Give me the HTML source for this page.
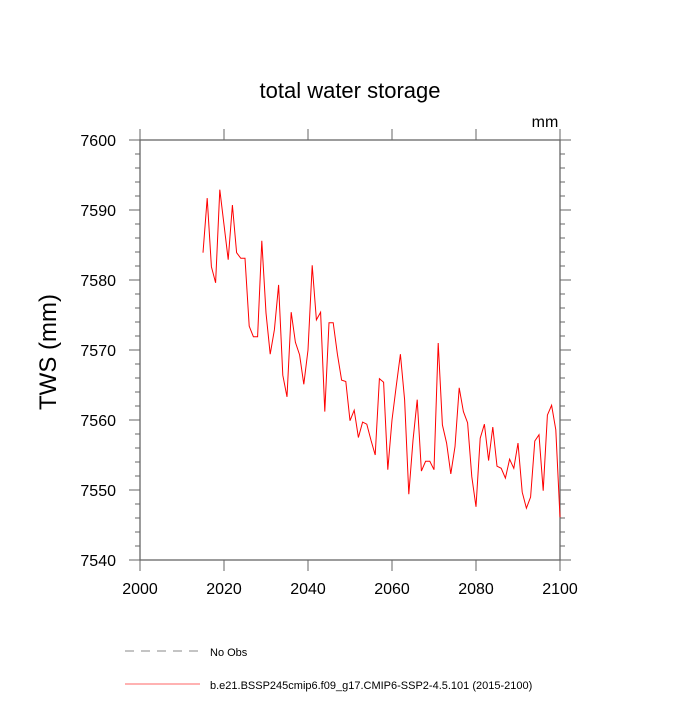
<!DOCTYPE html>
<html><head><meta charset="utf-8"><style>
body{margin:0;background:#fff}
svg{font-family:"Liberation Sans",sans-serif}
</style></head><body>
<svg id="chart" width="700" height="700">
<text x="350" y="98" font-size="22" text-anchor="middle">total water storage</text>
<text x="545" y="127" font-size="16" text-anchor="middle">mm</text>
<text transform="translate(56,352) rotate(-90)" font-size="24" text-anchor="middle">TWS  (mm)</text>
<g id="axes"></g>
<g id="series"></g>
<g>
<line x1="125" y1="651" x2="200" y2="651" stroke="#888" stroke-dasharray="9,7"/>
<text x="210" y="656" font-size="11">No Obs</text>
<line x1="125" y1="684" x2="200" y2="684" stroke="#f66"/>
<text x="210" y="689" font-size="11">b.e21.BSSP245cmip6.f09_g17.CMIP6-SSP2-4.5.101 (2015-2100)</text>
</g>
</svg>
<script>
const startYear = 2015;
const twsValues = [7583.9,7591.7,7581.9,7579.6,7592.9,7587.9,7582.9,7590.7,7583.9,7583.1,7583.1,7573.4,7571.9,7571.9,7585.6,7575.3,7569.4,7572.9,7579.3,7566.4,7563.3,7575.4,7571.1,7569.3,7565.1,7570.0,7582.1,7574.3,7575.4,7561.2,7573.9,7573.9,7569.4,7565.7,7565.5,7559.9,7561.4,7557.5,7559.7,7559.4,7557.1,7555.0,7565.9,7565.4,7552.9,7560.0,7564.8,7569.4,7562.9,7549.4,7557.1,7562.9,7552.7,7554.1,7554.1,7552.9,7571.0,7559.3,7556.7,7552.3,7556.2,7564.6,7561.2,7559.6,7551.9,7547.6,7557.4,7559.4,7554.2,7559.0,7553.4,7553.1,7551.7,7554.4,7553.1,7556.7,7549.7,7547.4,7549.0,7557.0,7557.9,7549.9,7560.7,7562.1,7558.6,7546.1];
const xTicks = [2000,2020,2040,2060,2080,2100];
const yTicks = [7540,7550,7560,7570,7580,7590,7600];
const NS="http://www.w3.org/2000/svg";
const L=140,R=560,T=140,B=560;
const AC='#666';
const xS=v=>L+(v-2000)/100*(R-L);
const yS=v=>B-(v-7540)/60*(B-T);
const ax=document.getElementById('axes');
function mk(tag,attrs,parent){const e=document.createElementNS(NS,tag);for(const k in attrs)e.setAttribute(k,attrs[k]);parent.appendChild(e);return e;}
for(let v=7540;v<=7600;v+=2){const y=yS(v);
 const t1=mk('line',{x1:L,y1:y,x2:L-5,y2:y,stroke:AC},ax);
 
 
 const t2=mk('line',{x1:R,y1:y,x2:R+5,y2:y,stroke:AC},ax);
 
 }
xTicks.forEach(v=>{const x=xS(v);
 const a=mk('line',{x1:x,y1:B,x2:x,y2:B+11,stroke:AC},ax);
 
 
 const b=mk('line',{x1:x,y1:T,x2:x,y2:T-11,stroke:AC},ax);
 
 
 const t=mk('text',{x:x,y:B+34,'font-size':16,'text-anchor':'middle'},ax);t.textContent=v;
 
 });
yTicks.forEach(v=>{const y=yS(v);
 const a=mk('line',{x1:L,y1:y,x2:L-11,y2:y,stroke:AC},ax);
 
 
 const b=mk('line',{x1:R,y1:y,x2:R+11,y2:y,stroke:AC},ax);
 
 
 const t=mk('text',{x:L-24,y:y+6,'font-size':16,'text-anchor':'end'},ax);t.textContent=v;
 
 });
const frame=mk('rect',{x:L,y:T,width:R-L,height:B-T,fill:'none',stroke:AC,'stroke-width':1.3},ax);


const pts=twsValues.map((v,i)=>xS(startYear+i).toFixed(1)+','+yS(v).toFixed(1)).join(' ');
const pl=mk('polyline',{points:pts,fill:'none',stroke:'#f00','stroke-width':1},document.getElementById('series'));


</script>
</body></html>
